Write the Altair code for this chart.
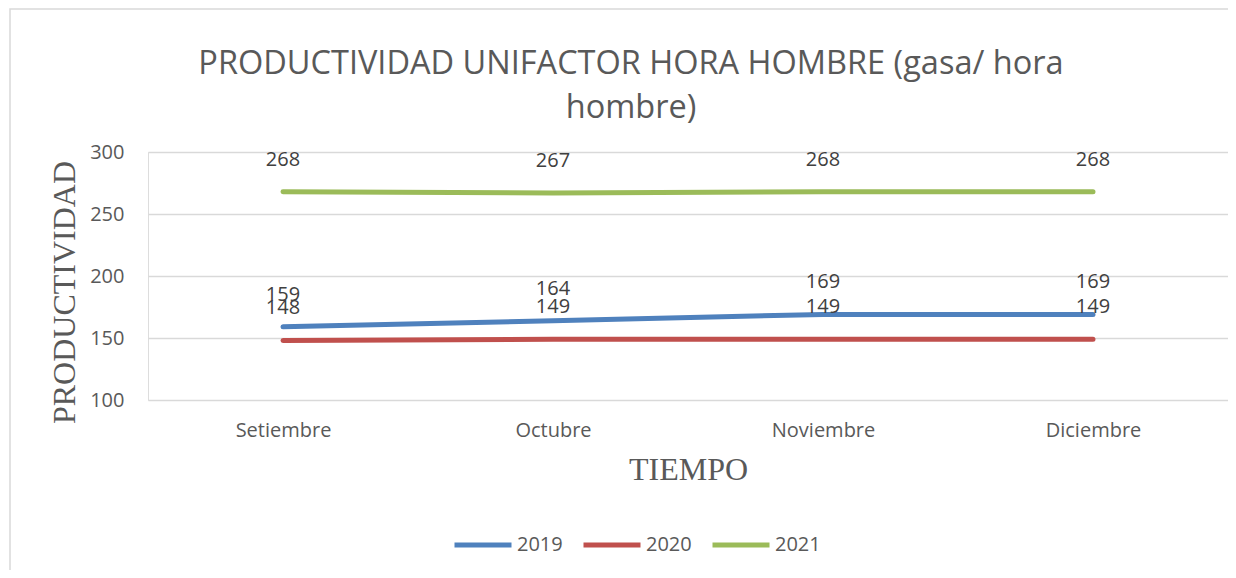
import altair as alt
import pandas as pd

months = ["Setiembre", "Octubre", "Noviembre", "Diciembre"]
years = ["2019", "2020", "2021"]
v2019 = [159, 164, 169, 169]
v2020 = [148, 149, 149, 149]
v2021 = [268, 267, 268, 268]
colors = ["#4f81bd", "#c0504d", "#9bbb59"]
title_lines = ["PRODUCTIVIDAD UNIFACTOR HORA HOMBRE (gasa/ hora", "hombre)"]

rows = []
for yr, vals in zip(years, [v2019, v2020, v2021]):
    for m, v in zip(months, vals):
        rows.append({"mes": m, "serie": yr, "valor": v})
df = pd.DataFrame(rows)

FONT = "Open Sans"
TXT = "#595959"

x = alt.X(
    "mes:N", sort=months,
    scale=alt.Scale(type="point", padding=0.5),
    axis=alt.Axis(title="TIEMPO", titleFont="Liberation Serif", titleFontSize=32,
                  titleFontWeight="normal", titleColor=TXT, titlePadding=14,
                  labelFont=FONT, labelFontSize=20, labelColor=TXT, labelPadding=20,
                  labelAngle=0, domain=False, ticks=False, grid=False),
)
y = alt.Y(
    "valor:Q",
    scale=alt.Scale(domain=[100, 300], nice=False, zero=False),
    axis=alt.Axis(title="PRODUCTIVIDAD", titleFont="Liberation Serif", titleFontSize=32,
                  titleFontWeight="normal", titleColor=TXT, titlePadding=8, titleY=140,
                  labelFont=FONT, labelFontSize=20, labelColor=TXT, labelPadding=24,
                  values=[100, 150, 200, 250, 300], domain=False, ticks=False,
                  gridColor="#d9d9d9", gridWidth=1.3),
)
color = alt.Color(
    "serie:N",
    scale=alt.Scale(domain=years, range=colors),
    legend=alt.Legend(title=None, orient="none", legendX=304, legendY=362,
                      direction="horizontal", symbolType="stroke", symbolSize=3249,
                      symbolStrokeWidth=5, labelFont=FONT, labelFontSize=20,
                      labelColor=TXT, labelOffset=3, columnPadding=10),
)

lines = alt.Chart(df).mark_line(strokeWidth=5, strokeCap="round").encode(x=x, y=y, color=color)
labels = alt.Chart(df).mark_text(dy=-32, font=FONT, fontSize=20, color="#404040").encode(
    x=alt.X("mes:N", sort=months), y="valor:Q", text="valor:Q")

border = alt.Chart(alt.Data(values=[{}])).mark_rect(
    fill="transparent", stroke="#d9d9d9", strokeWidth=1.5).encode(
    x=alt.value(-138), x2=alt.value(1150), y=alt.value(-143), y2=alt.value(500))

chart = alt.layer(border, lines, labels).properties(
    width=1080, height=248,
    autosize=alt.AutoSizeParams(type="none"),
    padding={"left": 140, "top": 144, "right": 0, "bottom": 170},
    title=alt.TitleParams(text=title_lines, font=FONT, fontSize=32.5, fontWeight="normal",
                          color=TXT, anchor="middle", frame="group", dx=-57, offset=-116,
                          lineHeight=44),
).configure_view(stroke=None).configure(background="white")

chart.save("out.html", embed_options={"renderer": "svg", "actions": False})
